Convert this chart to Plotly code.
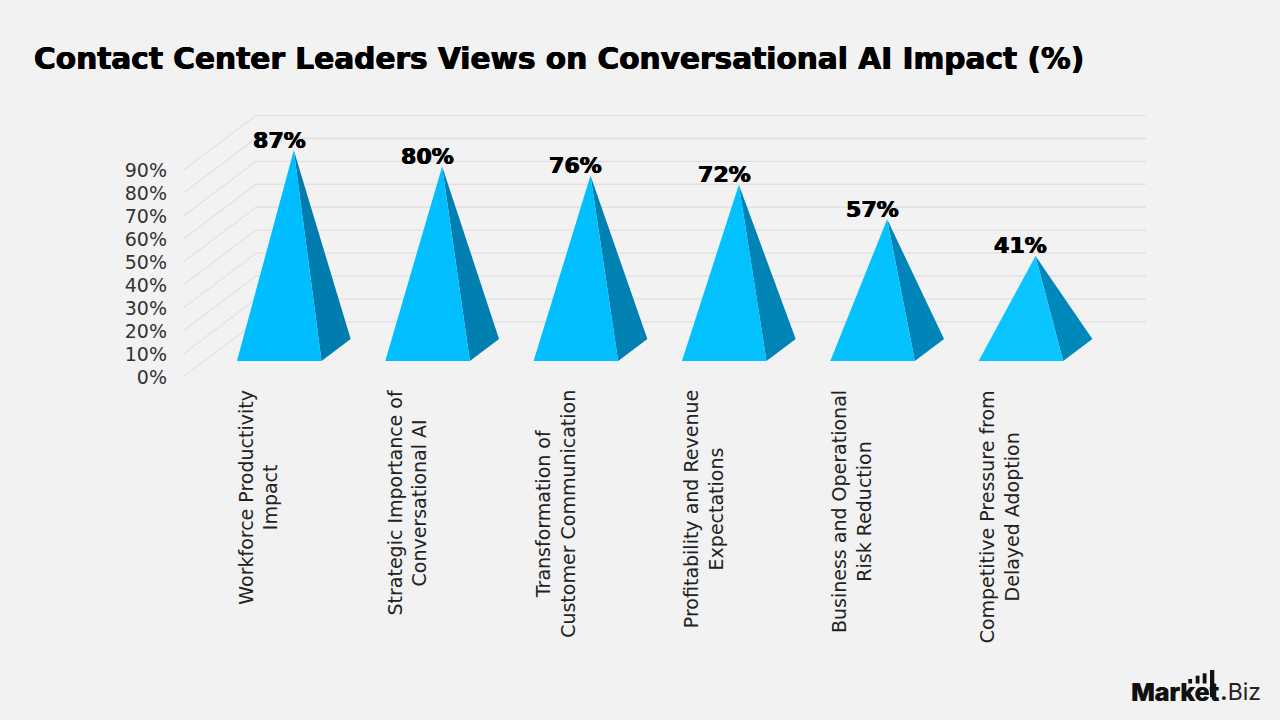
import plotly.graph_objects as go

# Survey results
categories = [
    "Workforce Productivity<br>Impact",
    "Strategic Importance of<br>Conversational AI",
    "Transformation of<br>Customer Communication",
    "Profitability and Revenue<br>Expectations",
    "Business and Operational<br>Risk Reduction",
    "Competitive Pressure from<br>Delayed Adoption",
]
values = [87, 80, 76, 72, 57, 41]
tick_values = [0, 10, 20, 30, 40, 50, 60, 70, 80, 90]
tick_labels = ["0%", "10%", "20%", "30%", "40%", "50%", "60%", "70%", "80%", "90%"]
front_colors = ["#00BDFF", "#00BEFF", "#01BFFF", "#03C0FF", "#05C2FF", "#0AC5FF"]
side_colors = ["#007DAE", "#007FB0", "#0081B2", "#0083B5", "#0085B8", "#0088BB"]

# Oblique projection of the floor: how far the back wall sits from the front edge
WALL_DX = 0.492   # slots along x
WALL_DY = 24.0    # percentage points along y
BASE_FRONT = 0.29  # depth fraction of a pyramid's front edge
BASE_BACK = 0.69   # depth fraction of a pyramid's back edge
HALF_WIDTH = 0.285
SLOT_OFFSET = 0.006

X_MIN = -0.5
X_MAX = X_MIN + len(categories) + WALL_DX
FONT = "DejaVu Sans"
HEAVY = "0.6px 0 0 #000000, -0.4px 0 0 #000000"

# Plot area in page pixels, used to place the brand mark
PLOT_LEFT, PLOT_RIGHT, PLOT_TOP, PLOT_BOTTOM = 183, 1146, 115, 377


def project(x, value, depth):
    """Map a floor position, a height and a depth fraction onto the flat axes."""
    return x + SLOT_OFFSET + depth * WALL_DX, value + depth * WALL_DY


def paper_x(px):
    return (px - PLOT_LEFT) / (PLOT_RIGHT - PLOT_LEFT)


def paper_y(py):
    return (PLOT_BOTTOM - py) / (PLOT_BOTTOM - PLOT_TOP)


fig = go.Figure()

# Side wall and back wall gridlines
grid_x, grid_y = [], []
for v in tick_values:
    grid_x += [X_MIN, X_MIN + WALL_DX, X_MAX, None]
    grid_y += [v, v + WALL_DY, v + WALL_DY, None]
fig.add_trace(go.Scatter(x=grid_x, y=grid_y, mode="lines",
                         line=dict(color="#DADADA", width=1),
                         hoverinfo="skip", showlegend=False))

# One pyramid per category: lit front face plus shaded right face
for i, (name, value) in enumerate(zip(categories, values)):
    fl = project(i - HALF_WIDTH, 0, BASE_FRONT)
    fr = project(i + HALF_WIDTH, 0, BASE_FRONT)
    br = project(i + HALF_WIDTH, 0, BASE_BACK)
    apex = project(i, value, (BASE_FRONT + BASE_BACK) / 2)
    fig.add_trace(go.Scatter(x=[fr[0], br[0], apex[0], fr[0]],
                             y=[fr[1], br[1], apex[1], fr[1]],
                             mode="lines", fill="toself", fillcolor=side_colors[i],
                             line=dict(width=0), hoverinfo="skip", showlegend=False))
    fig.add_trace(go.Scatter(x=[fl[0], fr[0], apex[0], fl[0]],
                             y=[fl[1], fr[1], apex[1], fl[1]],
                             mode="lines", fill="toself", fillcolor=front_colors[i],
                             line=dict(width=0), hoverinfo="skip", showlegend=False))
    fig.add_annotation(x=project(i, 0, BASE_FRONT)[0], xref="x", y=apex[1], yref="y", yshift=10,
                       text=f"{value}%", showarrow=False,
                       xanchor="center", yanchor="middle",
                       font=dict(family=FONT, size=22, color="#000000", weight=700, shadow=HEAVY))
    fig.add_annotation(x=i, xref="x", xshift=1, y=paper_y(388), yref="paper",
                       text=name, textangle=-90, showarrow=False, align="center",
                       xanchor="center", yanchor="top",
                       font=dict(family=FONT, size=19, color="#222222"))

# Brand mark in the lower right corner
fig.add_annotation(x=paper_x(1221), xref="paper", y=paper_y(692.5), yref="paper",
                   text="Market", showarrow=False, xanchor="right", yanchor="middle",
                   font=dict(family="Inter", size=25, color="#111111", weight=800,
                             shadow="0.4px 0 0 #111111"))
fig.add_annotation(x=paper_x(1218), xref="paper", y=paper_y(692.5), yref="paper",
                   text="<b>.</b>Biz", showarrow=False, xanchor="left", yanchor="middle",
                   font=dict(family="Inter", size=23, color="#222222", weight=400))
logo_bars = [(1188.3, 679.0), (1195.7, 675.7), (1202.7, 673.3)]
for bar_left, bar_top in logo_bars:
    fig.add_shape(type="rect", xref="paper", yref="paper", line_width=0, fillcolor="#111111",
                  x0=paper_x(bar_left), x1=paper_x(bar_left + 3.8),
                  y0=paper_y(683.5), y1=paper_y(bar_top))
fig.add_shape(type="rect", xref="paper", yref="paper", line_width=0, fillcolor="#111111",
              x0=paper_x(1210), x1=paper_x(1214.3), y0=paper_y(697), y1=paper_y(670))

fig.update_layout(
    width=1280, height=720,
    margin=dict(l=PLOT_LEFT, r=1280 - PLOT_RIGHT, t=PLOT_TOP, b=720 - PLOT_BOTTOM, autoexpand=False),
    paper_bgcolor="#F2F2F2", plot_bgcolor="#F2F2F2",
    showlegend=False,
    title=dict(text="Contact Center Leaders Views on Conversational AI Impact (%)",
               x=34 / 1280, xanchor="left", xref="container",
               y=1 - 59 / 720, yanchor="middle", yref="container",
               font=dict(family=FONT, size=29.6, color="#000000", weight=700, shadow=HEAVY)),
    xaxis=dict(range=[X_MIN, X_MAX], visible=False, fixedrange=True),
    yaxis=dict(range=[0, 262 / 2.295], showgrid=False, zeroline=False, showline=False,
               tickmode="array", tickvals=tick_values, ticktext=tick_labels,
               ticks="", ticklabelstandoff=15,
               tickfont=dict(family=FONT, size=19, color="#333333"), fixedrange=True),
)

fig.write_html("out.html")
